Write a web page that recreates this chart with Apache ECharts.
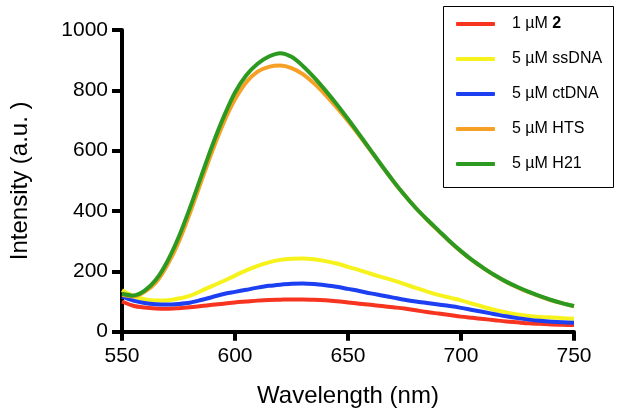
<!DOCTYPE html>
<html>
<head>
<meta charset="utf-8">
<script src="https://cdn.jsdelivr.net/npm/echarts@6/dist/echarts.min.js"></script>
<style>html,body{margin:0;padding:0;background:#fff;}#c{width:622px;height:417px;}</style>
</head>
<body>
<div id="c"></div>
<script>
var wavelengths = [550,555,560,565,570,575,580,585,590,595,600,605,610,615,620,625,630,635,640,645,650,655,660,665,670,675,680,685,690,695,700,705,710,715,720,725,730,735,740,745,750];
var red2 = [100,86,80,77,76,78,81,85,89,93,97,100,103,105,106,107,107,106,104,101,97,93,89,85,81,77,71,65,60,55,50,46,42,38,34,31,28,26,24,23,22];
var ssDNA = [137,118,108,103,104,110,119,135,152,168,186,203,218,230,238,242,243,240,234,226,215,204,192,181,170,158,145,133,122,113,104,93,82,72,64,57,52,49,47,45,43];
var ctDNA = [116,103,95,91,90,92,96,105,115,125,132,139,146,152,156,159,160,158,154,149,142,135,127,120,113,106,100,95,90,85,79,72,65,58,51,45,40,36,33,31,30];
var HTS = [122,117,132,163,220,296,392,497,600,693,770,827,862,878,882,874,854,823,785,743,698,650,600,549,499,453,410,371,334,299,266,236,210,186,165,147,131,117,104,94,84];
var H21 = [126,120,136,172,232,312,409,514,618,712,793,850,888,912,923,911,881,843,800,754,705,654,602,550,500,453,410,372,336,300,267,237,211,187,166,148,132,118,105,94,85];
var seriesNames = ['1 \u00b5M 2','5 \u00b5M ssDNA','5 \u00b5M ctDNA','5 \u00b5M HTS','5 \u00b5M H21'];
var seriesColors = ['#f73420','#f6f21c','#1d3ff2','#f6a125','#2c9a20'];
var seriesData = [red2, ssDNA, ctDNA, HTS, H21];
var xTicks = [550,600,650,700,750];
var yTicks = [0,200,400,600,800,1000];

function pairs(vals){ return wavelengths.map(function(w,i){ return [w, vals[i]]; }); }

var chart = echarts.init(document.getElementById('c'), null, {renderer:'canvas'});
var font = 'Liberation Sans, Arial, Helvetica, sans-serif';
var series = seriesData.map(function(d,i){
  return {
    name: seriesNames[i], type:'line', data: pairs(d), smooth: 0.3, showSymbol:false, symbol:'none',
    lineStyle:{color: seriesColors[i], width:4}, itemStyle:{color: seriesColors[i]}, z: 2+i
  };
});
chart.setOption({
  animation:false,
  backgroundColor:'#fff',
  grid:{left:122, right:48, top:30, bottom:85.3, containLabel:false},
  xAxis:{
    type:'value', min:550, max:750, interval:50,
    name:'Wavelength (nm)', nameLocation:'middle', nameGap:53,
    nameTextStyle:{fontFamily:font, fontSize:24, color:'#000'},
    axisLine:{show:true, lineStyle:{color:'#000', width:4}},
    axisTick:{show:true, length:9, lineStyle:{color:'#000', width:4}},
    axisLabel:{fontFamily:font, fontSize:21, color:'#000', margin:14, formatter:function(v){return String(v);}},
    splitLine:{show:false}
  },
  yAxis:{
    type:'value', min:0, max:1000, interval:200,
    name:'Intensity (a.u. )', nameLocation:'middle', nameGap:90,
    nameTextStyle:{fontFamily:font, fontSize:24, color:'#000'},
    axisLine:{show:true, lineStyle:{color:'#000', width:4}},
    axisTick:{show:true, length:10, lineStyle:{color:'#000', width:4}},
    axisLabel:{fontFamily:font, fontSize:21, color:'#000', margin:14, formatter:function(v){return String(v);}},
    splitLine:{show:false}
  },
  legend:{
    orient:'vertical', left:456, top:15, padding:0, itemGap:17,
    itemWidth:39, itemHeight:4, icon:'roundRect',
    data: seriesNames,
    formatter:function(n){
      if(n === seriesNames[0]) return '{t|1 \u00b5M }{b|2}';
      return '{t|' + n + '}';
    },
    textStyle:{fontFamily:font, fontSize:16, color:'#000', lineHeight:18,
      rich:{t:{fontFamily:font, fontSize:16, color:'#000', padding:[0,0,0,12]}, b:{fontFamily:font, fontSize:16, fontWeight:'bold', color:'#000'}}}
  },
  graphic:[{type:'rect', shape:{x:443.5, y:6.5, width:170, height:181}, style:{fill:'none', stroke:'#000', lineWidth:1}, silent:true, z:10}],
  series: series
});
</script>
</body>
</html>
